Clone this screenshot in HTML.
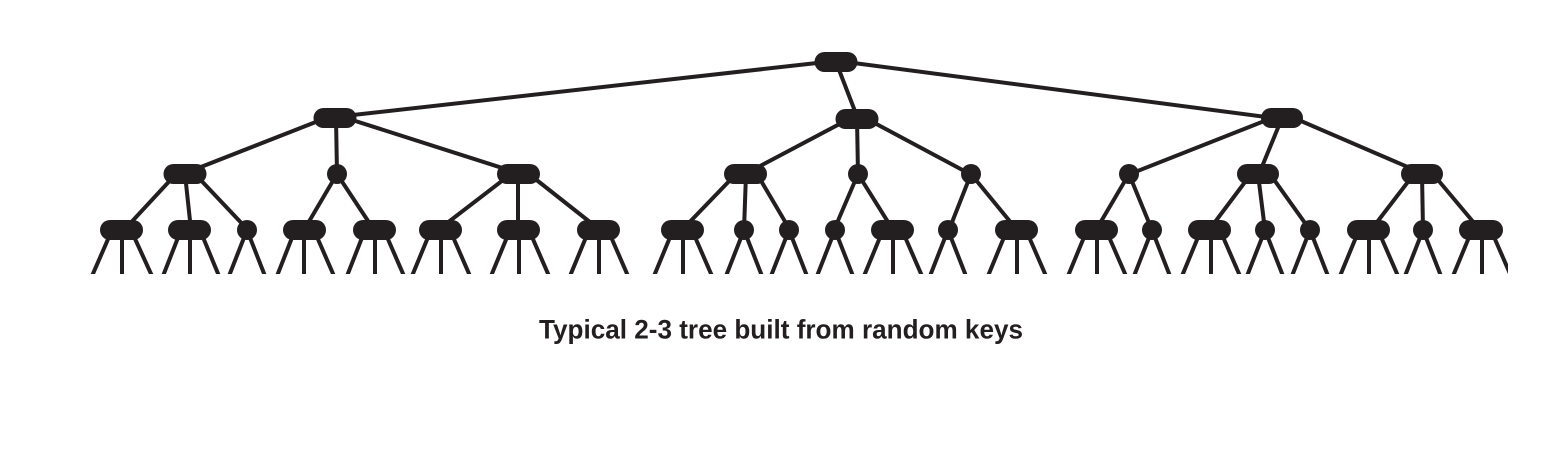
<!DOCTYPE html>
<html><head><meta charset="utf-8"><style>
html,body{margin:0;padding:0;background:#fff;}
svg{display:block;}
</style></head><body>
<svg width="1544" height="452" viewBox="0 0 1544 452" xmlns="http://www.w3.org/2000/svg">
<defs><clipPath id="c"><rect x="0" y="0" width="1508" height="274"/></clipPath></defs>
<g clip-path="url(#c)" stroke="#231f20" fill="none" stroke-linecap="butt">
<g stroke-width="4">
<line x1="826" y1="62" x2="326" y2="118"/>
<line x1="836" y1="62" x2="858" y2="119"/>
<line x1="846" y1="62" x2="1274" y2="118"/>
<line x1="326" y1="118" x2="183" y2="174"/>
<line x1="336" y1="118" x2="337" y2="174"/>
<line x1="346" y1="118" x2="521" y2="174"/>
<line x1="849" y1="119" x2="745" y2="174"/>
<line x1="857" y1="119" x2="858" y2="174"/>
<line x1="867" y1="119" x2="970" y2="174"/>
<line x1="1272" y1="118" x2="1130" y2="174"/>
<line x1="1282" y1="118" x2="1259" y2="174"/>
<line x1="1294" y1="118" x2="1424" y2="174"/>
<line x1="176" y1="174" x2="124" y2="230"/>
<line x1="185" y1="174" x2="191" y2="230"/>
<line x1="195" y1="174" x2="248" y2="230"/>
<line x1="337" y1="174" x2="304" y2="230"/>
<line x1="337" y1="174" x2="374" y2="230"/>
<line x1="511" y1="174" x2="438" y2="230"/>
<line x1="518" y1="174" x2="518" y2="230"/>
<line x1="529" y1="174" x2="600" y2="230"/>
<line x1="736" y1="174" x2="682" y2="230"/>
<line x1="746" y1="174" x2="744" y2="230"/>
<line x1="757" y1="174" x2="790" y2="230"/>
<line x1="858" y1="174" x2="834" y2="230"/>
<line x1="858" y1="174" x2="893" y2="230"/>
<line x1="971" y1="174" x2="949" y2="230"/>
<line x1="971" y1="174" x2="1017" y2="230"/>
<line x1="1129" y1="174" x2="1096" y2="230"/>
<line x1="1129" y1="174" x2="1152" y2="230"/>
<line x1="1251" y1="174" x2="1209" y2="230"/>
<line x1="1258" y1="174" x2="1265" y2="230"/>
<line x1="1270" y1="174" x2="1310" y2="230"/>
<line x1="1414" y1="174" x2="1371" y2="230"/>
<line x1="1422" y1="174" x2="1423" y2="230"/>
<line x1="1433" y1="174" x2="1480" y2="230"/>
</g>
<g stroke-width="4">
<line x1="112" y1="230" x2="92" y2="276"/><line x1="122" y1="230" x2="122" y2="276"/><line x1="131" y1="230" x2="152" y2="276"/>
<line x1="181" y1="230" x2="163" y2="276"/><line x1="190" y1="230" x2="190" y2="276"/><line x1="200" y1="230" x2="219" y2="276"/>
<line x1="247" y1="230" x2="229" y2="276"/><line x1="247" y1="230" x2="265" y2="276"/>
<line x1="295" y1="230" x2="277" y2="276"/><line x1="304" y1="230" x2="304" y2="276"/><line x1="314" y1="230" x2="334" y2="276"/>
<line x1="365" y1="230" x2="347" y2="276"/><line x1="375" y1="230" x2="375" y2="276"/><line x1="384" y1="230" x2="404" y2="276"/>
<line x1="431" y1="230" x2="412" y2="276"/><line x1="441" y1="230" x2="441" y2="276"/><line x1="450" y1="230" x2="470" y2="276"/>
<line x1="510" y1="230" x2="491" y2="276"/><line x1="519" y1="230" x2="519" y2="276"/><line x1="529" y1="230" x2="549" y2="276"/>
<line x1="589" y1="230" x2="570" y2="276"/><line x1="599" y1="230" x2="599" y2="276"/><line x1="608" y1="230" x2="628" y2="276"/>
<line x1="673" y1="230" x2="654" y2="276"/><line x1="683" y1="230" x2="683" y2="276"/><line x1="692" y1="230" x2="712" y2="276"/>
<line x1="744" y1="230" x2="726" y2="276"/><line x1="744" y1="230" x2="762" y2="276"/>
<line x1="789" y1="230" x2="771" y2="276"/><line x1="789" y1="230" x2="807" y2="276"/>
<line x1="835" y1="230" x2="817" y2="276"/><line x1="835" y1="230" x2="853" y2="276"/>
<line x1="883" y1="230" x2="864" y2="276"/><line x1="893" y1="230" x2="893" y2="276"/><line x1="902" y1="230" x2="922" y2="276"/>
<line x1="948" y1="230" x2="930" y2="276"/><line x1="948" y1="230" x2="966" y2="276"/>
<line x1="1007" y1="230" x2="988" y2="276"/><line x1="1017" y1="230" x2="1017" y2="276"/><line x1="1026" y1="230" x2="1046" y2="276"/>
<line x1="1087" y1="230" x2="1068" y2="276"/><line x1="1097" y1="230" x2="1097" y2="276"/><line x1="1106" y1="230" x2="1126" y2="276"/>
<line x1="1152" y1="230" x2="1134" y2="276"/><line x1="1152" y1="230" x2="1170" y2="276"/>
<line x1="1201" y1="230" x2="1182" y2="276"/><line x1="1211" y1="230" x2="1211" y2="276"/><line x1="1220" y1="230" x2="1240" y2="276"/>
<line x1="1265" y1="230" x2="1247" y2="276"/><line x1="1265" y1="230" x2="1283" y2="276"/>
<line x1="1310" y1="230" x2="1292" y2="276"/><line x1="1310" y1="230" x2="1328" y2="276"/>
<line x1="1359" y1="230" x2="1340" y2="276"/><line x1="1369" y1="230" x2="1369" y2="276"/><line x1="1378" y1="230" x2="1398" y2="276"/>
<line x1="1423" y1="230" x2="1405" y2="276"/><line x1="1423" y1="230" x2="1441" y2="276"/>
<line x1="1472" y1="230" x2="1453" y2="276"/><line x1="1482" y1="230" x2="1482" y2="276"/><line x1="1491" y1="230" x2="1511" y2="276"/>
</g>
<g fill="#231f20" stroke="none">
<rect x="814.5" y="52" width="43" height="20" rx="10"/>
<rect x="313.5" y="108" width="43" height="20" rx="10"/>
<rect x="835.5" y="109" width="43" height="20" rx="10"/>
<rect x="1261" y="108" width="42" height="20" rx="10"/>
<rect x="163.5" y="164" width="43" height="20" rx="10"/>
<circle cx="337" cy="174" r="10"/>
<rect x="497" y="164" width="43" height="20" rx="10"/>
<rect x="724" y="164" width="43" height="20" rx="10"/>
<circle cx="858" cy="174" r="10"/>
<circle cx="971" cy="174" r="10"/>
<circle cx="1129" cy="174" r="10"/>
<rect x="1237" y="164" width="42" height="20" rx="10"/>
<rect x="1401" y="164" width="42" height="20" rx="10"/>
<rect x="100" y="220" width="43" height="20" rx="10"/>
<rect x="168" y="220" width="43" height="20" rx="10"/>
<circle cx="247" cy="230" r="10"/>
<rect x="283" y="220" width="43" height="20" rx="10"/>
<rect x="353" y="220" width="43" height="20" rx="10"/>
<rect x="419" y="220" width="43" height="20" rx="10"/>
<rect x="497" y="220" width="43" height="20" rx="10"/>
<rect x="577" y="220" width="43" height="20" rx="10"/>
<rect x="661" y="220" width="43" height="20" rx="10"/>
<circle cx="744" cy="230" r="10"/>
<circle cx="789" cy="230" r="10"/>
<circle cx="835" cy="230" r="10"/>
<rect x="871" y="220" width="43" height="20" rx="10"/>
<circle cx="948" cy="230" r="10"/>
<rect x="995" y="220" width="43" height="20" rx="10"/>
<rect x="1075" y="220" width="43" height="20" rx="10"/>
<circle cx="1152" cy="230" r="10"/>
<rect x="1188" y="220" width="43" height="20" rx="10"/>
<circle cx="1265" cy="230" r="10"/>
<circle cx="1310" cy="230" r="10"/>
<rect x="1347" y="220" width="43" height="20" rx="10"/>
<circle cx="1423" cy="230" r="10"/>
<rect x="1459" y="220" width="44" height="20" rx="10"/>
</g>
</g>
<text x="539" y="338.5" font-family="Liberation Sans, sans-serif" font-weight="bold" font-size="27" fill="#231f20" textLength="484" lengthAdjust="spacingAndGlyphs">Typical 2-3 tree built from random keys</text>
</svg>
</body></html>
